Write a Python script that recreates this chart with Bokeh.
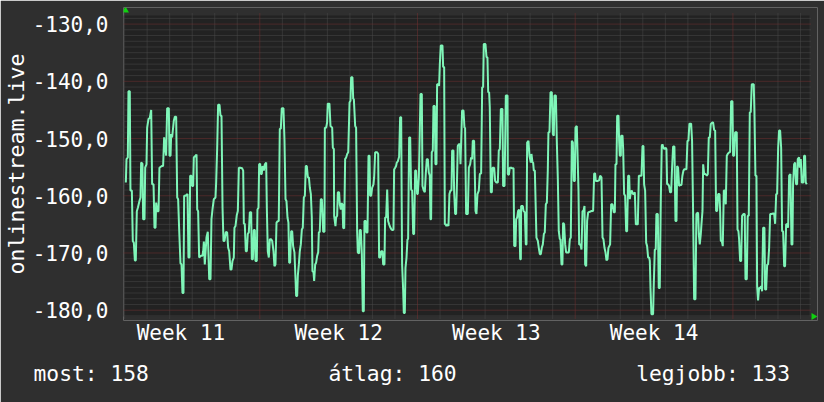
from bokeh.plotting import figure
from bokeh.models import Range1d, FixedTicker, Title
from bokeh.embed import file_html
from bokeh.resources import INLINE
import math

# ---------------- data (hours since start of Week 11, dBm-like values) ----------------
hours_a = [25.3,26.0,27.4,28.1,29.5,30.2,31.7,32.7,33.8,34.9,35.9,37.0,38.1,39.8,40.9,41.6,43.0,43.7,45.2,45.9,
           47.3,48.0,49.4,50.8,52.3,53.3,54.8,55.8,56.9,57.6,58.7,60.1,61.1,63.6,65.0,66.1,67.2,68.2,69.3,71.1,
           71.8,72.9,73.6,74.6,76.4,77.5,78.9,80.0,81.0,82.1,83.5,84.6,85.6,86.7,87.4,88.8,91.0,92.0,93.1,93.8,
           95.2,95.9,97.0,97.7,99.5,100.6,101.3,102.3,103.4,105.2,106.9,107.7,108.4,109.4,110.5,111.2,112.6,114.1,115.5,116.5,
           117.6,119.0,120.8,121.5,122.6,123.6,125.1,126.1,127.2,128.3,129.3,130.4,131.8,133.2,134.3,135.4,136.8,137.8,138.9,140.3,
           141.0,142.1,143.5,144.6]
signal_a = [-157.7,-153.6,-153.3,-141.75,-141.75,-159.1,-159.1,-167.9,-168.2,-171.3,-171.3,-162.7,-162.1,-160.9,-160.3,-154.2,-154.4,-164.1,-164.1,-155.1,
            -154.5,-148.1,-146.6,-146.4,-145.0,-158.0,-158.0,-165.6,-165.6,-161.2,-162.7,-162.7,-155.1,-154.8,-154.8,-149.8,-151.6,-153.0,-144.7,-144.7,
            -153.0,-153.0,-149.2,-149.8,-146.9,-146.2,-146.2,-160.3,-160.6,-165.9,-171.8,-172.0,-177.0,-177.0,-160.0,-160.0,-159.7,-170.8,-170.8,-156.5,
            -156.5,-158.3,-158.3,-153.3,-153.0,-152.8,-162.4,-162.7,-170.8,-170.5,-170.5,-169.7,-168.0,-172.0,-169.1,-167.3,-166.3,-174.6,-174.6,-164.1,
            -162.4,-160.6,-160.3,-157.7,-151.6,-144.1,-144.1,-146.0,-146.0,-162.1,-167.9,-167.9,-166.3,-166.4,-169.1,-169.7,-172.9,-172.9,-171.4,-170.8,
            -165.6,-165.3,-163.35,-162.65]

hours_b = [145.7,147.1,149.2,150.3,151.0,152.0,153.1,154.2,155.2,156.3,157.4,158.8,159.5,160.6,161.6,162.7,163.4,164.8,165.5,166.6,
           167.3,168.4,169.1,170.1,170.9,172.3,173.4,174.8,175.5,176.5,177.6,178.7,180.1,181.2,182.6,183.6,184.7,185.8,186.8,188.2,
           189.3,190.4,191.4,193.2,194.3,195.4,196.4,197.5,198.5,199.3,200.3,201.4,202.5,203.5,204.9,206.0,206.7,207.8,208.5,209.6,
           210.6,211.7,212.8,213.8,214.9,216.0,217.0,218.1,219.2,220.3,221.3,222.4,223.4,224.1,225.2,225.9,227.0,228.0,229.1,230.2,
           230.9,231.9,233.0,234.1,234.8,235.5,236.9,237.3,238.7,239.7,240.4,242.2,243.3,245.1,245.8,246.9,247.2,248.6,249.3,250.4,
           251.1,252.5,253.2,254.3,255.0,256.1,256.8,257.9,258.9,260.0,261.1,262.2,263.6,264.6,265.3,266.7,267.5]
signal_b = [-155.1,-155.1,-155.2,-155.6,-164.9,-164.9,-169.7,-169.7,-166.7,-166.4,-162.9,-162.9,-171.1,-171.1,-166.0,-166.0,-171.4,-171.4,-162.4,-162.1,
            -154.5,-154.4,-156.2,-156.2,-154.8,-155.6,-154.5,-154.2,-162.1,-169.7,-170.8,-167.6,-167.6,-167.9,-169.7,-172.3,-172.0,-164.7,-164.5,-164.4,
            -148.3,-148.3,-144.7,-144.7,-150.4,-160.6,-160.9,-163.8,-164.7,-171.7,-171.7,-166.2,-166.2,-168.8,-169.9,-174.3,-177.5,-177.5,-174.0,-172.0,
            -169.7,-168.5,-165.9,-165.6,-160.3,-160.0,-154.8,-154.8,-156.8,-156.8,-158.6,-159.7,-163.8,-173.2,-173.3,-174.9,-172.0,-171.7,-170.5,-169.9,
            -166.4,-166.3,-160.6,-160.6,-163.1,-166.3,-166.3,-148.1,-148.1,-147.2,-143.9,-143.9,-147.8,-148.1,-151.6,-151.85,-163.5,-165.3,-163.8,-163.5,
            -159.4,-159.4,-161.5,-162.4,-161.3,-161.5,-165.6,-165.7,-153.6,-153.3,-152.7,-152.4,-143.7,-143.4,-139.3,-139.3,-143.1]

hours_c = [268.2,269.6,270.6,271.7,272.4,273.8,274.5,275.6,276.7,277.7,278.8,279.5,280.9,281.6,282.7,283.8,284.9,285.5,286.6,287.7,
           289.1,289.8,290.9,293.0,294.1,295.1,296.2,297.3,298.7,299.4,300.8,301.5,302.6,303.7,304.7,305.8,307.2,308.3,309.3,310.4,
           311.1,312.2,313.2,313.9,315.0,316.4,317.5,318.6,319.6,320.7,321.4,322.5,323.2,324.3,325.3,326.0,327.1,328.2,329.2,330.3,
           331.4,332.4,333.5,334.5,335.6,336.3,337.4,338.1,339.2,340.6,341.3,342.7,343.8,344.8,345.9,347.0,348.0,349.1,349.8,350.5,
           351.2,352.3,353.0,354.4,355.1,356.2,356.9,358.3,359.0,359.8,360.8,362.6,363.3,364.4,365.1,366.1,366.8,367.9,369.0,370.0,
           371.1,372.2,372.9,374.3,375.0,376.1,377.1,377.8,378.9,380.0,381.1,381.8,382.5,383.5,385.0,386.0,386.7,387.8,389.6]
signal_c = [-143.1,-147.8,-148.1,-166.2,-169.9,-170.1,-166.0,-166.0,-170.2,-180.2,-180.2,-164.4,-164.4,-166.4,-166.4,-153.0,-153.0,-160.0,-160.0,-158.6,
            -158.0,-156.8,-152.4,-152.4,-152.7,-170.8,-170.8,-169.7,-169.7,-172.0,-172.0,-163.8,-163.8,-158.9,-164.4,-165.0,-165.6,-165.9,-166.0,-165.9,
            -155.4,-155.1,-154.8,-154.2,-154.0,-153.2,-146.3,-146.3,-172.0,-176.4,-180.5,-180.5,-172.6,-170.8,-167.6,-167.6,-149.8,-149.8,-158.9,-159.1,
            -166.7,-166.7,-155.6,-155.6,-159.7,-159.7,-156.8,-151.6,-142.2,-142.2,-158.3,-159.1,-159.4,-156.2,-153.6,-153.6,-155.9,-156.5,-164.1,-164.1,
            -152.4,-152.1,-144.3,-144.3,-154.5,-154.5,-140.5,-140.5,-140.8,-137.0,-133.75,-133.75,-137.5,-137.5,-165.0,-165.0,-165.3,-165.0,-165.3,-159.7,
            -159.1,-159.1,-152.1,-152.1,-159.1,-163.2,-163.2,-159.4,-151.3,-151.0,-151.0,-154.5,-150.7,-145.1,-145.1,-148.1,-148.1,-163.2,-163.2]

hours_d = [390.7,392.1,393.1,394.2,394.9,396.3,397.0,397.8,398.8,399.9,401.3,402.4,403.8,404.9,405.9,406.6,408.4,409.5,410.5,411.3,
           412.3,413.0,414.1,415.2,415.9,417.7,418.7,420.1,421.6,422.6,423.7,424.8,426.5,427.2,428.7,429.4,430.1,431.9,432.2,433.3,
           434.3,435.8,436.8,438.3,439.0,440.4,441.1,442.2,443.2,444.3,445.4,446.1,446.4,448.2,448.9,450.3,451.4,452.1,452.8,454.2,
           455.3,456.7,457.4,458.5,459.2,459.9,461.0,462.7,464.2,465.2,466.3,467.4,468.4,469.5,470.6,471.6,472.7,473.8,474.8,475.5,
           476.6,477.7,479.1,480.2,481.2,481.9,483.4,484.4,485.5,486.5,487.6,488.3,489.4,490.4,491.1,492.2,493.3,494.3,495.4,497.2,
           498.3,499.3,500.4,501.5,502.5,503.6,504.3,505.7,506.4,507.5,508.2,509.6,510.7,511.8,512.8]
signal_d = [-155.1,-154.5,-153.3,-153.6,-150.4,-150.4,-155.6,-162.65,-163.2,-159.7,-159.1,-156.2,-156.1,-141.05,-141.05,-133.5,-133.5,-135.8,-135.8,-141.9,
            -141.9,-144.55,-159.4,-159.4,-155.1,-155.1,-157.4,-157.7,-157.7,-152.1,-151.85,-144.85,-144.85,-158.3,-158.3,-150.7,-142.5,-142.5,-156.2,-156.35,
            -155.1,-155.1,-155.2,-155.2,-168.8,-168.8,-164.1,-163.8,-162.65,-162.4,-171.1,-171.1,-161.8,-161.8,-162.65,-162.9,-168.5,-168.5,-150.7,-150.4,
            -153.0,-154.2,-152.7,-154.2,-154.2,-155.6,-155.6,-167.3,-167.9,-169.1,-170.2,-170.2,-169.1,-168.5,-166.7,-166.4,-161.5,-161.2,-155.6,-148.9,
            -148.9,-141.9,-141.9,-149.2,-149.5,-142.5,-142.5,-150.4,-157.1,-166.2,-167.6,-167.6,-172.0,-172.0,-164.7,-165.0,-168.5,-169.9,-169.9,-169.9,
            -167.6,-167.3,-150.4,-150.7,-157.4,-157.4,-148.1,-147.8,-152.1,-159.1,-168.5,-168.5,-169.4,-162.65,-162.65]

hours_e = [513.9,514.6,515.7,516.7,517.8,519.6,521.7,523.1,524.2,525.2,525.9,528.1,529.5,530.6,532.0,533.1,534.1,535.2,536.3,537.3,
           538.4,539.4,541.2,542.3,543.7,545.1,546.2,546.9,548.0,548.7,550.1,550.8,551.5,552.6,552.9,554.4,555.1,556.1,557.2,558.3,
           559.3,560.4,561.5,562.2,563.2,564.3,565.4,566.4,567.5,568.6,569.6,570.7,571.8,573.5,574.6,575.7,576.7,577.4,578.5,579.6,
           580.6,581.7,582.8,583.5,584.2,585.2,587.0,587.7,588.8,589.8,590.5,592.0,593.0,594.1,595.2,596.2,596.9,598.0,599.1,600.1,
           601.2,601.9,603.0,604.0,605.1,606.2,607.2,608.3,609.7,610.8,611.9,612.6,613.6,614.7,615.8,617.2,618.2,619.3,620.4,622.5,
           623.6,624.6,625.7,627.5,628.5,629.6,630.7,632.1,633.1,634.6]
signal_e = [-161.8,-172.0,-172.3,-164.4,-162.9,-162.8,-162.65,-162.65,-156.1,-156.1,-157.4,-157.4,-157.3,-156.5,-156.8,-167.3,-167.6,-169.1,-169.9,-171.3,
            -171.1,-169.1,-168.5,-161.5,-161.5,-162.9,-162.9,-154.5,-154.5,-146.0,-146.0,-150.4,-153.0,-153.0,-149.5,-149.5,-151.85,-159.7,-160.0,-166.2,
            -166.2,-156.5,-156.5,-160.6,-159.4,-159.1,-159.7,-159.7,-159.4,-165.0,-165.0,-165.0,-156.5,-156.5,-156.5,-151.3,-151.3,-158.0,-159.1,-168.2,
            -168.8,-170.8,-170.8,-171.4,-176.1,-180.7,-180.7,-175.5,-169.4,-169.4,-163.2,-163.2,-176.1,-176.1,-160.6,-151.3,-151.0,-151.6,-151.85,-151.6,
            -151.85,-158.0,-158.0,-158.3,-159.4,-159.4,-155.1,-151.4,-151.4,-164.4,-164.4,-154.8,-155.1,-158.3,-158.1,-158.1,-156.5,-155.6,-155.35,-155.35,
            -150.4,-150.4,-147.4,-147.4,-150.4,-162.9,-178.1,-178.1,-163.2,-162.9]

hours_f = [635.0,635.7,636.7,637.8,638.5,639.6,640.3,641.4,642.8,644.2,645.3,646.3,647.4,648.4,649.9,650.9,652.0,653.1,654.1,655.2,
           656.3,657.7,658.4,659.1,660.2,661.2,662.3,663.4,664.4,665.5,666.5,668.0,669.0,670.1,671.5,672.2,673.3,674.4,676.1,676.9,
           677.9,678.6,679.7,680.8,681.8,683.2,684.6,685.4,686.8,687.8,688.9,690.0,691.0,692.1,694.2,694.9,696.0,697.1,697.8,698.8,
           699.9,701.0,702.0,703.1,704.2,705.6,706.3,707.4,708.5,709.5,710.6,711.7,713.1,714.9,715.9,717.0,718.1,719.1,720.2,721.2,
           722.3,723.4,724.4,725.5,726.6,727.6,728.7,729.8,730.8,731.9,733.3,734.4,735.4,736.1,737.2,738.3,739.3,740.4,741.1,742.5,
           743.2,744.3,745.4,747.1,747.8,748.9,749.6,750.7]
signal_f = [-163.2,-166.7,-168.5,-166.7,-165.0,-162.65,-154.5,-156.2,-156.2,-156.5,-156.2,-149.8,-149.8,-147.5,-147.2,-147.2,-148.5,-148.6,-162.65,-162.65,
            -159.7,-159.7,-162.65,-167.9,-167.9,-168.8,-159.1,-159.1,-161.5,-153.0,-152.7,-152.4,-152.4,-143.5,-143.5,-153.0,-153.0,-148.9,-148.9,-165.9,
            -166.2,-167.6,-171.4,-171.4,-163.5,-163.2,-163.2,-174.6,-174.6,-163.5,-163.5,-145.4,-145.4,-140.5,-140.5,-145.1,-156.5,-156.5,-175.8,-178.3,
            -176.1,-176.1,-175.8,-176.7,-165.6,-165.6,-176.4,-176.4,-172.0,-172.0,-169.1,-163.2,-163.2,-163.1,-163.1,-164.9,-159.7,-159.7,-151.6,-148.6,
            -148.6,-151.6,-166.2,-166.2,-172.3,-172.3,-165.0,-165.0,-165.6,-156.5,-156.2,-168.5,-168.5,-158.0,-154.5,-154.2,-158.0,-158.0,-153.6,-153.3,
            -155.1,-153.6,-157.7,-157.7,-153.0,-153.0,-157.7,-158.0]

week_starts = [168, 336, 504, 672]
week_label_pos = [84, 252, 420, 588]
week_labels = ["Week 11", "Week 12", "Week 13", "Week 14"]
y_ticks = [-180, -170, -160, -150, -140, -130]
y_tick_labels = ["-180,0", "-170,0", "-160,0", "-150,0", "-140,0", "-130,0"]
axis_title = "onlinestream.live"
summary = ["most: 158", "átlag: 160", "legjobb: 133"]

# ---------------- assemble series ----------------
hours, signal = [], []
for hh, ss in [(hours_a, signal_a), (hours_b, signal_b), (hours_c, signal_c),
               (hours_d, signal_d), (hours_e, signal_e), (hours_f, signal_f)]:
    n = min(len(hh), len(ss))
    hours += hh[:n]
    signal += ss[:n]

# plot-area extent (data) and pixel scale
X0, X1 = 22.8, 753.6
Y0, Y1 = -181.1, -128.5
PW, PH = 686, 301
pxh = PW / (X1 - X0)
pyv = PH / (Y1 - Y0)
# frame is a little larger than the plot area so the rrdtool arrows fit
EXT_R, EXT_T, EXT_B = 8, 8, 4
XR = (X0, X1 + EXT_R / pxh)
YR = (Y0 - EXT_B / pyv, Y1 + EXT_T / pyv)

FONT = "DejaVu Sans Mono"
BG = "#2f2f2f"
PLOT_BG = "#222222"
TXT = "#ffffff"
MINOR = "#4a4a4a"
MAJOR = "#743030"

p = figure(width=824, height=402, output_backend="svg", toolbar_location=None,
           x_range=Range1d(*XR), y_range=Range1d(*YR),
           min_border_left=123, min_border_right=824 - 123 - PW - EXT_R,
           min_border_top=15 - EXT_T, min_border_bottom=402 - 316 - EXT_B)
p.background_fill_color = BG
p.border_fill_color = BG
p.outline_line_color = None
p.xgrid.visible = False
p.ygrid.visible = False

# x axis
p.xaxis.ticker = FixedTicker(ticks=week_label_pos)
p.xaxis.major_label_overrides = {k: v for k, v in zip(week_label_pos, week_labels)}
p.xaxis.major_label_text_font = FONT
p.xaxis.major_label_text_font_size = "21px"
p.xaxis.major_label_text_color = TXT
p.xaxis.major_tick_out = 0
p.xaxis.major_tick_in = 0
p.xaxis.major_label_standoff = 0
p.xaxis.axis_line_color = None
p.xaxis.major_tick_line_color = None
p.xaxis.minor_tick_line_color = None

# y axis
y_minor = [v for v in range(-181, -128) if v % 10 != 0]
p.yaxis.ticker = FixedTicker(ticks=y_ticks)
p.yaxis.major_label_overrides = {k: v for k, v in zip(y_ticks, y_tick_labels)}
p.yaxis.major_label_text_font = FONT
p.yaxis.major_label_text_font_size = "21px"
p.yaxis.major_label_text_color = TXT
p.yaxis.major_tick_out = 0
p.yaxis.major_tick_in = 0
p.yaxis.major_label_standoff = 15
p.yaxis.axis_line_color = None
p.yaxis.major_tick_line_color = None
p.yaxis.minor_tick_line_color = None

# plot area background
p.quad(left=[X0], right=[X1], bottom=[Y0], top=[Y1], fill_color=PLOT_BG, line_color=None)

# grid (rrdtool-like dotted lines, with small ticks outside the plot area)
day_minor = [h for h in range(24, 760, 24) if h % 168 != 0 and X0 < h < X1]
yl_lo, yl_hi = Y0 - 2 / pyv, Y1 + 2 / pyv
xl_lo, xl_hi = X0 - 2 / pxh, X1 + 2 / pxh
p.segment(x0=day_minor, y0=[yl_lo] * len(day_minor), x1=day_minor, y1=[yl_hi] * len(day_minor),
          line_color=MINOR, line_width=1, line_dash="1 1")
p.segment(x0=[xl_lo] * len(y_minor), y0=y_minor, x1=[xl_hi] * len(y_minor), y1=y_minor,
          line_color=MINOR, line_width=1, line_dash="1 1")
p.segment(x0=week_starts, y0=[yl_lo] * 4, x1=week_starts, y1=[yl_hi] * 4,
          line_color=MAJOR, line_width=1, line_dash="1 1")
p.segment(x0=[xl_lo] * len(y_ticks), y0=y_ticks, x1=[xl_hi] * len(y_ticks), y1=y_ticks,
          line_color=MAJOR, line_width=1, line_dash="1 1")

p.line(hours, signal, line_color="#7ff5b8", line_width=2)

# rrdtool axis arrows
p.scatter(x=[X0 + 2 / pxh], y=[Y1 + 5 / pyv], marker="triangle", size=7,
          fill_color="#10d010", line_color=None)
p.scatter(x=[X1 + 4 / pxh], y=[Y0], marker="triangle", size=7, angle=-math.pi / 2,
          fill_color="#10d010", line_color=None)

# y axis title (vertical, left)
p.add_layout(Title(text=axis_title, align="center", offset=12, standoff=-3,
                   vertical_align="top",
                   text_font=FONT, text_font_size="21.6px", text_font_style="normal",
                   text_color=TXT), "left")

# summary line (monospace, columns placed with non-breaking spaces)
gap = "\u00a0" * 14
p.add_layout(Title(text=summary[0] + gap + summary[1] + gap + summary[2],
                   align="left", offset=-90, standoff=22,
                   text_font=FONT, text_font_size="21.3px", text_font_style="normal",
                   text_color=TXT), "below")

open("out.html", "w").write(file_html(p, INLINE))
